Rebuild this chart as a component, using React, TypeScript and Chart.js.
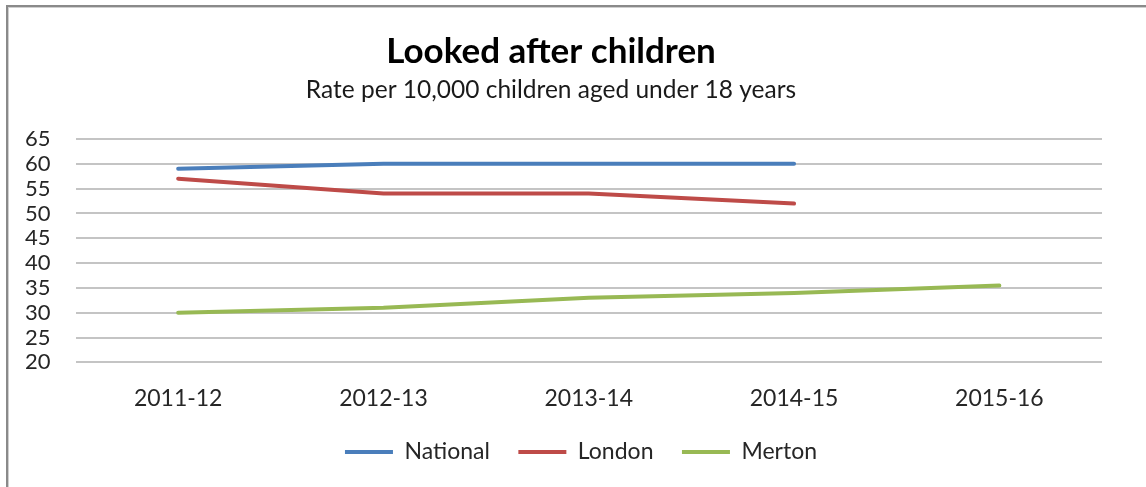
import React, { useEffect, useRef } from "react";
import { Chart, registerables } from "chart.js";

Chart.register(...registerables);

const categories = ["2011-12", "2012-13", "2013-14", "2014-15", "2015-16"];
const nationalValues = [59, 60, 60, 60, null];
const londonValues = [57, 54, 54, 52, null];
const mertonValues = [30, 31, 33, 34, 35.5];
const yTicks = { min: 20, max: 65, step: 5 };
const titleText = "Looked after children";
const subtitleText = "Rate per 10,000 children aged under 18 years";

const FONT = "Lato, 'Open Sans', 'DejaVu Sans', sans-serif";
const X_TICK_PAD = 22;
const X_TICK_FONT = 23;
const LEGEND_SHIFT = 30;

const legendShift = {
  id: "legendShift",
  afterLayout(chart: any) {
    if (chart.legend) {
      chart.legend.left += LEGEND_SHIFT;
      chart.legend.right += LEGEND_SHIFT;
    }
  },
};

export default function App() {
  const ref = useRef<HTMLCanvasElement | null>(null);

  useEffect(() => {
    const canvas = ref.current;
    if (!canvas) return;
    const chart = new Chart(canvas, {
      type: "line",
      data: {
        labels: categories,
        datasets: [
          { label: "National", data: nationalValues, borderColor: "#4a7ebb", backgroundColor: "#4a7ebb" },
          { label: "London", data: londonValues, borderColor: "#be4b48", backgroundColor: "#be4b48" },
          { label: "Merton", data: mertonValues, borderColor: "#98b954", backgroundColor: "#98b954" },
        ].map((d) => ({
          ...d,
          borderWidth: 4,
          pointRadius: 0,
          pointHoverRadius: 0,
          tension: 0,
          borderCapStyle: "round" as const,
          pointStyle: "line" as const,
          spanGaps: false,
        })),
      },
      plugins: [legendShift],
      options: {
        animation: false,
        responsive: false,
        maintainAspectRatio: false,
        devicePixelRatio: 1,
        layout: { padding: { left: 0, right: 44, top: 31, bottom: 13.5 } },
        plugins: {
          title: {
            display: true,
            text: titleText,
            color: "#000000",
            font: { family: FONT, size: 35, weight: "bold", lineHeight: 1.2 },
            padding: { top: 0, bottom: 2 },
          },
          subtitle: {
            display: true,
            text: subtitleText,
            color: "#1a1a1a",
            font: { family: FONT, size: 24.5, lineHeight: 1.2 },
            padding: { top: 0, bottom: 34.6 },
          },
          legend: {
            display: true,
            position: "bottom",
            labels: {
              usePointStyle: true,
              pointStyle: "line",
              pointStyleWidth: 48,
              boxHeight: 4,
              color: "#262626",
              font: { family: FONT, size: 23 },
              padding: 28.5,
            },
          },
          tooltip: { enabled: false },
        },
        scales: {
          x: {
            offset: true,
            grid: { display: false, drawTicks: false },
            border: { display: false },
            ticks: {
              color: "#262626",
              font: { family: FONT, size: X_TICK_FONT, lineHeight: 1.2 },
              padding: X_TICK_PAD,
              maxRotation: 0,
              autoSkip: false,
            },
            afterFit: (scale: any) => {
              scale.height = X_TICK_PAD + X_TICK_FONT * 1.2;
            },
          },
          y: {
            min: yTicks.min,
            max: yTicks.max,
            grid: { color: "#c4c4c4", lineWidth: 2, drawTicks: false },
            border: { display: false },
            ticks: {
              stepSize: yTicks.step,
              autoSkip: false,
              color: "#262626",
              font: { family: FONT, size: 22 },
              padding: 25,
            },
          },
        },
      },
    });
    return () => chart.destroy();
  }, []);

  return (
    <div style={{ position: "absolute", left: 0, top: 0, width: 1146, height: 487, background: "#ffffff", overflow: "hidden" }}>
      <div
        style={{
          position: "absolute",
          left: 6,
          top: 5,
          width: 1150,
          height: 500,
          borderTop: "2px solid #8a8a8a",
          borderLeft: "2px solid #8a8a8a",
          boxShadow: "inset 1px 1px 0 #cfcfcf",
        }}
      />
      <canvas ref={ref} width={1146} height={487} style={{ position: "absolute", left: 0, top: 0, width: 1146, height: 487 }} />
    </div>
  );
}
